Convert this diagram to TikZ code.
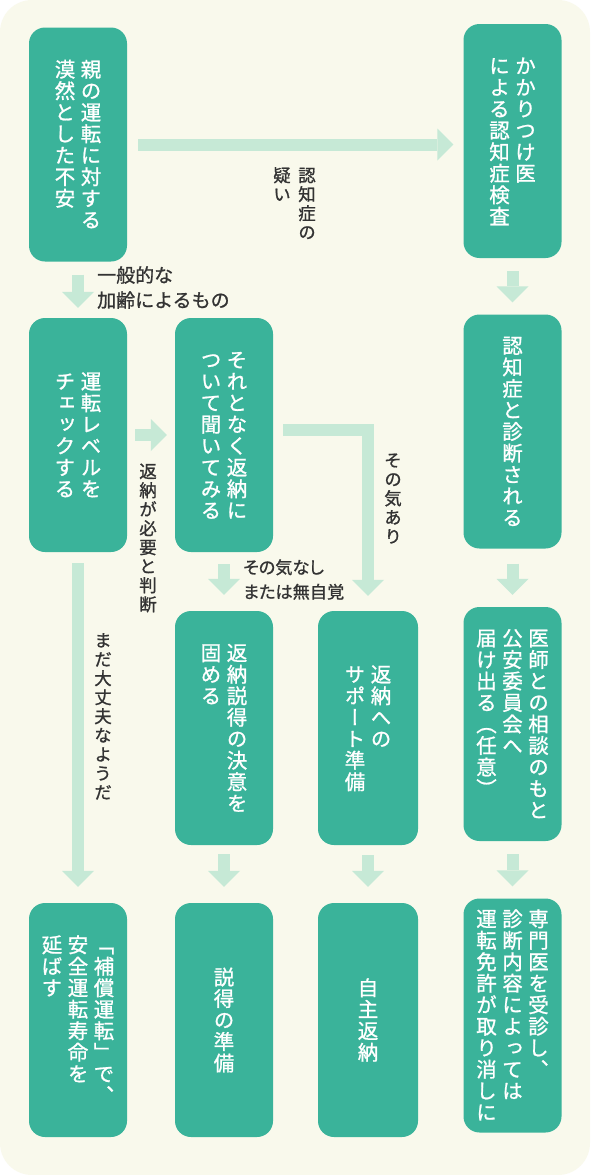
\documentclass[tikz,border=0pt]{standalone}
\usepackage{fontspec}
\usetikzlibrary{arrows.meta}
\newfontfamily\jp[FakeBold=1]{Noto Sans CJK JP}
\newfontfamily\jpp[FakeBold=1,RawFeature=+palt]{Noto Sans CJK JP}
\newfontfamily\jpv[FakeBold=1,RawFeature=+vert]{Noto Sans CJK JP}
\definecolor{bgcream}{HTML}{F9F9EC}
\definecolor{boxteal}{HTML}{3AB39A}
\definecolor{arrmint}{HTML}{C6E9D6}
\definecolor{ink}{HTML}{333333}
\makeatletter
\newdimen\vcgap
\def\vc@end{}
\def\vc@loop#1{\ifx\vc@end#1\else\hbox to 1em{\vrule height\dimexpr.88em+.5\vcgap\relax depth\dimexpr.12em+.5\vcgap\relax width0pt\hss#1\hss}\expandafter\vc@loop\fi}
\newcommand\vcol[1]{\vtop{\offinterlineskip\vc@loop#1\vc@end}}
\makeatother
\newcommand\vcskip{\hskip 5.5pt}
\newcommand\vlskip{\hskip 7.5pt}
\tikzset{
  box/.style={fill=boxteal, rounded corners=16pt, minimum width=98pt, minimum height=234pt,
    inner sep=0pt, text=white, font={\jpv\fontsize{20.5}{21.5}\selectfont\vcgap=1pt\relax}},
  lblv/.style={inner sep=0pt, text=ink, font={\jpv\fontsize{17.5}{19}\selectfont\vcgap=1.5pt\relax}},
  lblh/.style={inner sep=0pt, text=ink, align=left, font={\jp\fontsize{19}{25}\selectfont}},
  lblhp/.style={lblh, font={\jpp\fontsize{17.2}{24.5}\selectfont}},
  arr/.style={draw=arrmint, line width=12pt, -{Triangle[width=32pt,length=16pt,line width=0pt]}}
}
\begin{document}
\begin{tikzpicture}[x=1pt,y=-1pt]
\useasboundingbox (0,0) rectangle (590,1175);
\fill[white] (0,0) rectangle (590,1175);
\fill[bgcream, rounded corners=32pt] (0,0) rectangle (590,1175);
% boxes
\node[box] (b1) at (78,144.5) {\vcol{漠然とした不安}\vcskip\vcol{親の運転に対する}};
\node[box] (b4a) at (512.5,141) {\vcol{による認知症検査}\vcskip\vcol{かかりつけ医}};
\node[box] (b2) at (78,435) {\vcol{チェックする}\vcskip\vcol{運転レベルを}};
\node[box] (b3) at (224,435) {\vcol{ついて聞いてみる}\vcskip\vcol{それとなく返納に}};
\node[box] (b4b) at (512.5,431.5) {\vcol{認知症と診断される}};
\node[box] (b6) at (224,728) {\vcol{固める}\vcskip\vcol{返納説得の決意を}};
\node[box, minimum width=100pt] (sup) at (368,728) {\vcol{サポート準備}\vcskip\vcol{返納への}};
\node[box] (b4c) at (512.5,724) {\vcol{届け出る（任意）}\vcskip\vcol{公安委員会へ}\vcskip\vcol{医師との相談のもと}};
\node[box] (b5) at (78,1020) {\vcol{延ばす}\vcskip\vcol{安全運転寿命を}\vcskip\vcol{「補償運転」で、}};
\node[box] (b7) at (224,1020) {\vcol{説得の準備}};
\node[box, minimum width=100pt] (b8) at (368,1020) {\vcol{自主返納}};
\node[box] (b4d) at (512.5,1015.5) {\vcol{運転免許が取り消しに}\vcskip\vcol{診断内容によっては}\vcskip\vcol{専門医を受診し、}};
% arrows
\draw[arr, shorten <=11pt, shorten >=10pt] (b1.east) -- (b1.east -| b4a.west);
\draw[arr, shorten <=13pt, shorten >=10pt] (b1.south) -- (b1.south |- b2.north);
\draw[arr, shorten <=8pt, shorten >=8pt] (b2.east) -- (b2.east -| b3.west);
\draw[arr, shorten <=12pt, shorten >=16pt] (b3.south) -- (b3.south |- b6.north);
\draw[arr, line join=miter, shorten <=10pt, shorten >=15pt] ([yshift=5pt]b3.east) -| (sup.north);
\draw[arr, shorten <=11pt, shorten >=16pt] (b2.south) -- (b2.south |- b5.north);
\draw[arr, shorten <=9pt, shorten >=16pt] (b6.south) -- (b6.south |- b7.north);
\draw[arr, shorten <=10pt, shorten >=16pt] (sup.south) -- (sup.south |- b8.north);
\draw[arr, shorten <=13pt, shorten >=12pt] (b4a.south) -- (b4a.south |- b4b.north);
\draw[arr, shorten <=15pt, shorten >=12pt] (b4b.south) -- (b4b.south |- b4c.north);
\draw[arr, shorten <=13pt, shorten >=12pt] (b4c.south) -- (b4c.south |- b4d.north);
% labels
\node[lblh, anchor=west] (l1) at (97,287.5) {一般的な\\加齢によるもの};
\node[lblhp, anchor=west] (l2) at (243,579.5) {その気なし\\または無自覚};
\node[lblv, anchor=north] (l3) at (294.5,165.5) {\vcol{疑い}\vlskip\vcol{認知症の}};
\node[lblv, anchor=north] (l4) at (148,461.5) {\vcol{返納が必要と判断}};
\node[lblv, anchor=north] (l5) at (393,450.5) {\vcol{その気あり}};
\node[lblv, anchor=north] (l6) at (103,630.5) {\vcol{まだ大丈夫なようだ}};
\end{tikzpicture}
\end{document}
